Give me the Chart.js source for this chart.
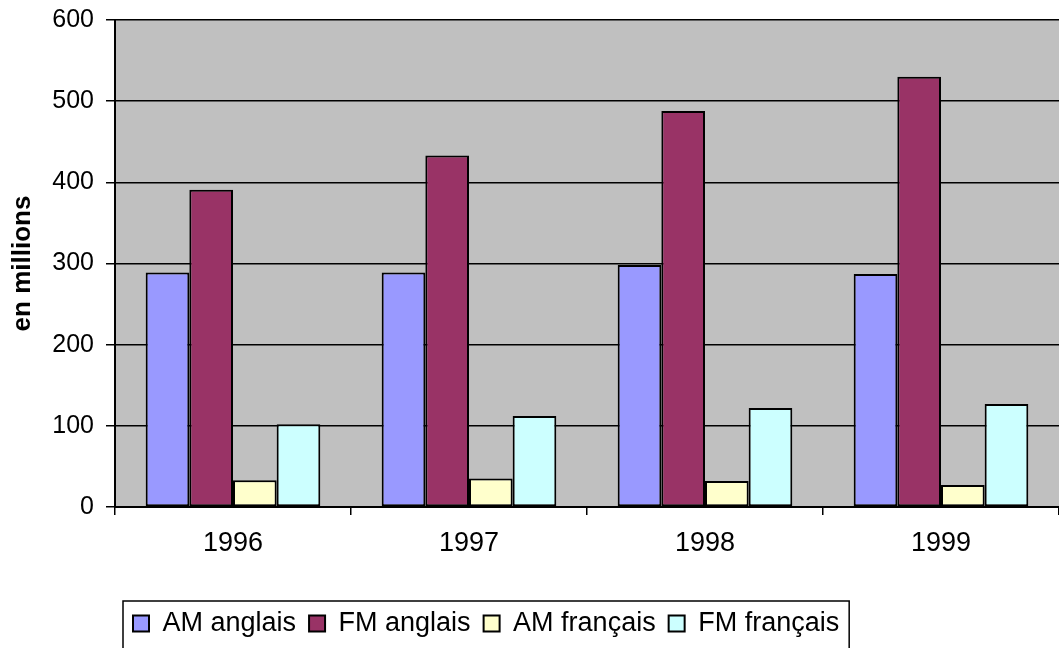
<!DOCTYPE html>
<html>
<head>
<meta charset="utf-8">
<script src="https://cdn.jsdelivr.net/npm/chart.js@4/dist/chart.umd.min.js"></script>
<style>
html,body{margin:0;padding:0;background:#fff;}
#wrap{width:1059px;height:648px;position:relative;}
</style>
</head>
<body>
<div id="wrap"><canvas id="c"></canvas></div>
<script>
const categories = ['1996', '1997', '1998', '1999'];
const amAnglais = [289, 289, 298, 287];
const fmAnglais = [391, 433, 488, 530];
const amFrancais = [33, 35, 32, 27];
const fmFrancais = [102, 112, 122, 127];
const seriesNames = ['AM anglais', 'FM anglais', 'AM français', 'FM français'];
const yTicks = [0, 100, 200, 300, 400, 500, 600];
const yTitle = 'en millions';

const FONT = "'Liberation Sans', Arial, sans-serif";
Chart.defaults.color = '#000';
Chart.defaults.font.family = FONT;

const plotBg = {
  id: 'plotBg',
  beforeDraw(chart) {
    const {ctx, chartArea: a} = chart;
    ctx.save();
    ctx.fillStyle = '#C0C0C0';
    ctx.fillRect(a.left, a.top, a.right - a.left, a.bottom - a.top);
    ctx.restore();
  }
};
const legendShift = {
  id: 'legendShift',
  afterLayout(chart) {
    const lg = chart.legend;
    lg.left += 5; lg.right += 5;
    const h = lg.bottom - lg.top;
    lg.top = 597; lg.bottom = 597 + h;
  },
  afterDraw(chart) {
    const lg = chart.legend;
    const hb = lg.legendHitBoxes;
    if (!hb || !hb.length) return;
    const first = hb[0], last = hb[hb.length - 1];
    const ctx = chart.ctx;
    ctx.save();
    ctx.strokeStyle = '#000';
    ctx.lineWidth = 1.5;
    ctx.strokeRect(first.left - 10, 601, (last.left + last.width + 10) - (first.left - 10), 80);
    ctx.restore();
  }
};

const mk = (label, data, color) => ({
  label, data, backgroundColor: color, borderColor: '#000', borderWidth: 2,
  borderSkipped: false, categoryPercentage: 0.74, barPercentage: 1
});

new Chart(document.getElementById('c'), {
  type: 'bar',
  data: {
    labels: categories,
    datasets: [
      mk(seriesNames[0], amAnglais, '#9999FF'),
      mk(seriesNames[1], fmAnglais, '#993366'),
      mk(seriesNames[2], amFrancais, '#FFFFCC'),
      mk(seriesNames[3], fmFrancais, '#CCFFFF')
    ]
  },
  options: {
    responsive: true,
    maintainAspectRatio: false,
    animation: false,
    layout: {padding: {top: 20, left: 0, right: 0, bottom: 0}},
    plugins: {
      tooltip: {enabled: false},
      legend: {
        position: 'bottom',
        align: 'start',
        fullSize: false,
        labels: {
          boxWidth: 16, boxHeight: 16, padding: 13,
          font: {size: 27, family: FONT}, color: '#000'
        }
      }
    },
    scales: {
      x: {
        afterFit(s) { s.height = 91; s.paddingLeft = 0; s.paddingRight = 0; },
        grid: {display: true, drawOnChartArea: false, drawTicks: true, tickLength: 8, color: '#000', lineWidth: 1.5, offset: true},
        border: {display: true, color: '#000', width: 2},
        ticks: {font: {size: 27, family: FONT}, color: '#000', padding: 12, maxRotation: 0}
      },
      y: {
        min: 0, max: 600,
        afterFit(s) { s.width = 115; s.paddingTop = 0; s.paddingBottom = 0; },
        afterBuildTicks(s) { s.ticks = yTicks.map(v => ({value: v})); },
        grid: {color: '#000', lineWidth: 1.5, drawTicks: true, tickLength: 9},
        border: {display: true, color: '#000', width: 2},
        ticks: {font: {size: 25, family: FONT}, color: '#000', padding: 12},
        title: {display: true, text: yTitle, font: {size: 26, weight: 'bold', family: FONT}, color: '#000', padding: {top: 7, bottom: 0}}
      }
    }
  },
  plugins: [plotBg, legendShift]
});
</script>
</body>
</html>
